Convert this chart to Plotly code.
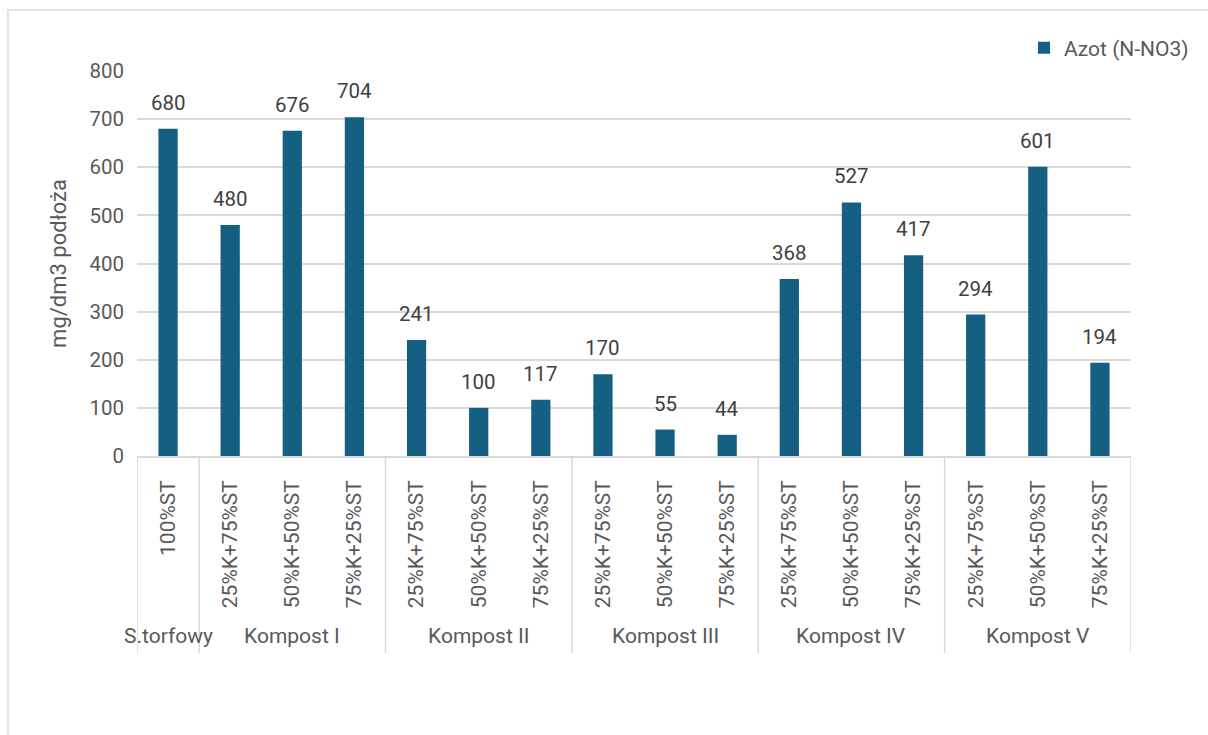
import plotly.graph_objects as go

# Substrate groups and mixture variants for each bar
groups = ["S.torfowy",
          "Kompost I", "Kompost I", "Kompost I",
          "Kompost II", "Kompost II", "Kompost II",
          "Kompost III", "Kompost III", "Kompost III",
          "Kompost IV", "Kompost IV", "Kompost IV",
          "Kompost V", "Kompost V", "Kompost V"]
variants = ["100%ST",
            "25%K+75%ST", "50%K+50%ST", "75%K+25%ST",
            "25%K+75%ST", "50%K+50%ST", "75%K+25%ST",
            "25%K+75%ST", "50%K+50%ST", "75%K+25%ST",
            "25%K+75%ST", "50%K+50%ST", "75%K+25%ST",
            "25%K+75%ST", "50%K+50%ST", "75%K+25%ST"]
nitrate = [680, 480, 676, 704, 241, 100, 117, 170, 55, 44,
           368, 527, 417, 294, 601, 194]
y_ticks = [0, 100, 200, 300, 400, 500, 600, 700, 800]

BAR = "#156082"
TXT = "#595959"
GRID = "#d9d9d9"
FONT = "Roboto"

W, H = 1208, 735
ML, MR, MT, MB = 137, 77, 71, 279
pw, ph = W - ML - MR, H - MT - MB


def px_x(p):
    return (p - ML) / pw


def px_y(p):
    return (H - MB - p) / ph


pos = list(range(len(nitrate)))

fig = go.Figure()
fig.add_trace(go.Bar(
    x=pos,
    y=nitrate,
    name="Azot (N-NO3)",
    marker=dict(color=BAR, line=dict(width=0)),
    width=0.31,
    showlegend=True,
))

# Value labels above the bars
for p, val in zip(pos, nitrate):
    fig.add_annotation(
        x=p, y=val, text=str(val), showarrow=False,
        yshift=26, font=dict(family=FONT, size=20.5, color="#404040"),
    )

# Group spans on the category axis
spans = {}
for p, g in zip(pos, groups):
    spans.setdefault(g, [p, p])
    spans[g][1] = p

div_bottom = px_y(653)
edges = set()
for g, (a, b) in spans.items():
    fig.add_annotation(
        x=(a + b) / 2, y=px_y(636), xref="x", yref="paper",
        text=g, showarrow=False, yanchor="middle",
        font=dict(family=FONT, size=21, color=TXT),
    )
    edges.add(a - 0.5)
    edges.add(b + 0.5)

for e in sorted(edges):
    fig.add_shape(
        type="line", xref="x", yref="paper",
        x0=e, x1=e, y0=0, y1=div_bottom,
        line=dict(color=GRID, width=1.5),
    )

# Chart outline
fig.add_shape(
    type="rect", xref="paper", yref="paper",
    x0=px_x(8), x1=px_x(1230), y0=px_y(760), y1=px_y(10),
    line=dict(color=GRID, width=1.5), fillcolor="rgba(0,0,0,0)",
    layer="below",
)

fig.update_layout(
    width=W, height=H,
    margin=dict(l=ML, r=MR, t=MT, b=MB),
    paper_bgcolor="white", plot_bgcolor="white",
    font=dict(family=FONT, size=20, color=TXT),
    legend=dict(
        x=px_x(1024), y=px_y(48), xanchor="left", yanchor="middle",
        font=dict(family=FONT, size=21, color=TXT),
        bgcolor="rgba(0,0,0,0)",
    ),
    xaxis=dict(
        range=[-0.5, len(nitrate) - 0.5],
        tickmode="array", tickvals=pos, ticktext=variants,
        tickangle=-90,
        showline=True, linecolor=GRID, linewidth=1.5,
        showgrid=False, zeroline=False,
        ticks="", ticklabelstandoff=14,
        tickfont=dict(family=FONT, size=21, color=TXT),
    ),
    yaxis=dict(
        range=[0, 800],
        tickvals=y_ticks,
        showline=False,
        showgrid=True, gridcolor=GRID, gridwidth=1.5,
        zeroline=False,
        ticks="", ticklabelstandoff=12,
        tickfont=dict(family=FONT, size=20.5, color=TXT),
        title=dict(text="mg/dm3 podłoża", standoff=16,
                   font=dict(family=FONT, size=22, color=TXT)),
    ),
)

fig.write_html("out.html")
